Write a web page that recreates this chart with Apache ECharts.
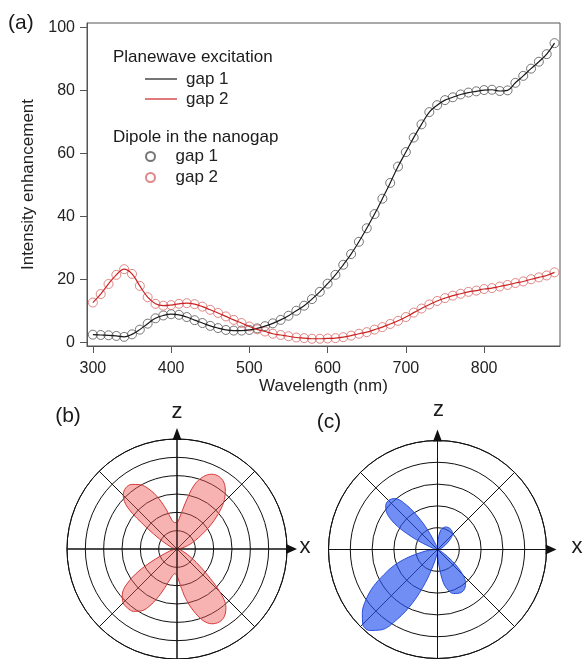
<!DOCTYPE html>
<html><head><meta charset="utf-8">
<script src="https://cdn.jsdelivr.net/npm/echarts@6/dist/echarts.min.js"></script>
<style>html,body{margin:0;padding:0;background:#fff}#c{width:587px;height:659px}</style>
</head><body><div id="c"></div>
<script>
// ---------- data: panel (a) ----------
const wavelength = [300,310,320,330,340,350,360,370,380,390,400,410,420,430,440,450,460,470,480,490,
  500,510,520,530,540,550,560,570,580,590,600,610,620,630,640,650,660,670,680,690,
  700,710,720,730,740,750,760,770,780,790,800,810,820,830,840,850,860,870,880,890];
const gap1 = [2.4,2.3,2.2,2.0,1.7,2.5,4.0,5.9,7.6,8.5,8.9,8.7,8.0,7.0,6.1,5.2,4.5,3.9,3.7,3.7,
  3.9,4.4,5.1,6.0,7.1,8.4,10.0,11.6,13.7,16.0,18.6,21.4,24.6,28.0,31.9,36.2,40.7,45.6,50.6,55.8,
  60.4,65.0,69.2,73.1,75.3,76.9,77.8,78.7,79.3,79.7,80.1,80.2,79.8,80.0,82.4,84.6,86.9,89.1,91.5,95.0];
const gap2 = [12.6,15.3,18.5,21.4,23.2,21.7,17.9,14.3,12.2,11.6,11.8,12.2,12.4,12.1,11.3,10.3,9.3,8.2,7.1,6.1,
  5.0,4.1,3.4,2.7,2.3,1.9,1.5,1.3,1.1,1.1,1.2,1.3,1.6,2.1,2.7,3.2,4.0,4.8,5.8,6.8,
  8.0,9.4,10.7,12.0,13.1,14.0,14.8,15.4,16.0,16.4,16.9,17.2,17.7,18.2,18.8,19.3,20.0,20.6,21.2,22.2];
const xTicks = [300,400,500,600,700,800];
const yTicks = [0,20,40,60,80,100];

// ---------- data: panels (b), (c) radiation patterns (radius vs angle in degrees) ----------
const angles = [0,5,10,15,20,25,30,35,40,45,50,55,60,65,70,75,80,85,90,95,100,105,110,115,120,125,130,135,140,145,150,155,160,165,170,175,
  180,185,190,195,200,205,210,215,220,225,230,235,240,245,250,255,260,265,270,275,280,285,290,295,300,305,310,315,320,325,330,335,340,345,350,355,360];
const patternB = [
  0.1,0.15,0.25,0.45,0.75,1.1,1.55,2.2,2.9,3.6,4.1,4.45,
  4.57,4.5,4.2,3.6,2.5,1.75,1.45,1.45,1.6,2.2,2.95,3.6,
  4.05,4.3,4.35,4.15,3.5,2.0,1.1,0.65,0.4,0.25,0.15,0.1,
  0.08,0.1,0.2,0.4,0.65,1.3,2.4,3.35,3.9,4.15,4.2,4.15,
  3.9,3.35,2.6,1.9,1.5,1.35,1.45,1.95,2.75,3.5,4.15,4.5,
  4.6,4.5,4.15,3.3,2.1,1.3,0.8,0.5,0.3,0.2,0.15,0.1,
  0.1];
const patternC = [
  0.05,0.05,0.08,0.12,0.2,0.3,0.42,0.6,0.8,0.97,1.05,1.1,
  1.12,1.12,1.1,1.04,0.92,0.6,0.25,0.12,0.1,0.12,0.25,0.75,
  1.6,2.5,3.05,3.18,3.1,2.8,2.1,1.1,0.4,0.2,0.12,0.12,
  0.15,0.4,0.75,1.4,2.1,2.7,3.4,4.0,4.5,4.85,4.85,4.5,
  3.7,2.7,1.6,0.75,0.35,0.2,0.25,0.75,1.55,1.95,2.15,2.22,
  2.25,2.18,2.0,1.65,1.1,0.55,0.25,0.12,0.08,0.05,0.05,0.05,
  0.05];

const F = '"Liberation Sans", Arial, Helvetica, sans-serif';
const names = {pw1:'gap 1', pw2:'gap 2', dp1:'gap 1', dp2:'gap 2'};
const lineIcon = 'path://M0,0H32V1.2H0Z';

// polar layout
const PB = {cx:177, cy:549, r:110};
const PC = {cx:437.5, cy:549.5, r:109};

function arrows(p) {
  const c = '#111';
  return [
    {type:'line', shape:{x1:p.cx, y1:p.cy+p.r, x2:p.cx, y2:p.cy-p.r-3}, style:{stroke:c, lineWidth:1}, z:10},
    {type:'polygon', shape:{points:[[p.cx-4.5,p.cy-p.r+1],[p.cx+4.5,p.cy-p.r+1],[p.cx,p.cy-p.r-11]]}, style:{fill:c}, z:10},
    {type:'line', shape:{x1:p.cx-p.r, y1:p.cy, x2:p.cx+p.r+3, y2:p.cy}, style:{stroke:c, lineWidth:1}, z:10},
    {type:'polygon', shape:{points:[[p.cx+p.r-1,p.cy-5],[p.cx+p.r-1,p.cy+5],[p.cx+p.r+10,p.cy]]}, style:{fill:c}, z:10}
  ];
}
function txt(x, y, s, size, align) {
  return {type:'text', x:x, y:y, z:11, style:{text:s, font: size+'px '+F, fill:'#1a1a1a', align:align||'center', verticalAlign:'middle'}};
}

const polarAngle = i => ({polarIndex:i, type:'value', min:0, max:360, interval:45, startAngle:0, clockwise:false,
  axisLine:{show:true, lineStyle:{color:'#111', width:1}}, axisTick:{show:false}, axisLabel:{show:false},
  splitLine:{show:true, lineStyle:{color:'#111', width:1}}});
const polarRadius = (i, max) => ({polarIndex:i, type:'value', min:0, max:max, interval:1,
  axisLine:{show:false}, axisTick:{show:false}, axisLabel:{show:false},
  splitLine:{show:true, lineStyle:{color:'#111', width:1}}});

const chart = echarts.init(document.getElementById('c'), null, {renderer:'canvas'});
chart.setOption({
  animation:false,
  backgroundColor:'#fff',
  grid:{left:87, right:27, top:23, bottom:313, show:true, borderColor:'#555', borderWidth:1},
  xAxis:{type:'value', min:292.5, max:897,
    axisLine:{show:true, onZero:false, lineStyle:{color:'#555', width:1}},
    axisTick:{show:true, length:7, customValues:xTicks, lineStyle:{color:'#555'}},
    axisLabel:{customValues:xTicks, fontSize:16, color:'#222', margin:15, fontFamily:F},
    splitLine:{show:false},
    name:'Wavelength (nm)', nameLocation:'middle', nameGap:31,
    nameTextStyle:{fontSize:17, color:'#222', fontFamily:F}},
  yAxis:{type:'value', min:-1.2, max:101.4,
    axisLine:{show:true, onZero:false, lineStyle:{color:'#555', width:1}},
    axisTick:{show:true, length:7, customValues:yTicks, lineStyle:{color:'#555'}},
    axisLabel:{customValues:yTicks, fontSize:16, color:'#222', margin:12, fontFamily:F},
    splitLine:{show:false},
    name:'Intensity enhancement', nameLocation:'middle', nameGap:50, nameRotate:90,
    nameTextStyle:{fontSize:17, color:'#222', fontFamily:F}},
  polar:[{center:[PB.cx, PB.cy], radius:PB.r}, {center:[PC.cx, PC.cy], radius:PC.r}],
  angleAxis:[polarAngle(0), polarAngle(1)],
  radiusAxis:[polarRadius(0, 6), polarRadius(1, 5)],
  legend:[
    {data:[{name:'pw1', icon:lineIcon},{name:'pw2', icon:lineIcon}], left:140, top:64, orient:'vertical',
      itemWidth:32, itemHeight:12, itemGap:0, selectedMode:false, formatter:n=>names[n],
      textStyle:{fontSize:17, color:'#222', fontFamily:F, lineHeight:20, padding:[0,0,0,4]}},
    {data:['dp1','dp2'], left:140, top:141, orient:'vertical', itemWidth:32, itemHeight:9, itemGap:0,
      selectedMode:false, formatter:n=>names[n],
      textStyle:{fontSize:17, color:'#222', fontFamily:F, lineHeight:21, padding:[0,0,0,4]}}
  ],
  graphic:[].concat(arrows(PB), arrows(PC), [
    txt(8, 23, '(a)', 21, 'left'),
    txt(113, 57, 'Planewave excitation', 17, 'left'),
    txt(113, 137, 'Dipole in the nanogap', 17, 'left'),
    txt(68, 416, '(b)', 21),
    txt(329, 422, '(c)', 21),
    txt(PB.cx, 412, 'z', 22),
    txt(305, 547, 'x', 22),
    txt(PC.cx+1, 410, 'z', 22),
    txt(577, 547, 'x', 22)
  ]),
  series:[
    {name:'pw1', type:'line', data:wavelength.map((w,i)=>[w,gap1[i]]), smooth:0.4, symbol:'none',
      lineStyle:{color:'#1a1a1a', width:1.2}, itemStyle:{color:'#1a1a1a'}, z:3},
    {name:'pw2', type:'line', data:wavelength.map((w,i)=>[w,gap2[i]]), smooth:0.4, symbol:'none',
      lineStyle:{color:'#cc2222', width:1.2}, itemStyle:{color:'#cc2222'}, z:3},
    {name:'dp1', type:'scatter', data:wavelength.map((w,i)=>[w,gap1[i]]), symbol:'circle', symbolSize:9,
      itemStyle:{color:'rgba(255,255,255,0)', borderColor:'#555', borderWidth:1}, z:2},
    {name:'dp2', type:'scatter', data:wavelength.map((w,i)=>[w,gap2[i]]), symbol:'circle', symbolSize:9,
      itemStyle:{color:'rgba(255,255,255,0)', borderColor:'#d86a6a', borderWidth:1}, z:2},
    {name:'pattern b', type:'line', coordinateSystem:'polar', polarIndex:0,
      data:angles.map((a,i)=>[patternB[i], a]), smooth:0.35, symbol:'none', clip:false,
      lineStyle:{color:'#d43a3a', width:1}, areaStyle:{color:'#ee5555', opacity:0.45}, z:2},
    {name:'pattern c', type:'line', coordinateSystem:'polar', polarIndex:1,
      data:angles.map((a,i)=>[patternC[i], a]), smooth:0.35, symbol:'none', clip:false,
      lineStyle:{color:'#2a4fd8', width:1}, areaStyle:{color:'#2552ee', opacity:0.65}, z:2}
  ]
});
</script>
</body></html>
